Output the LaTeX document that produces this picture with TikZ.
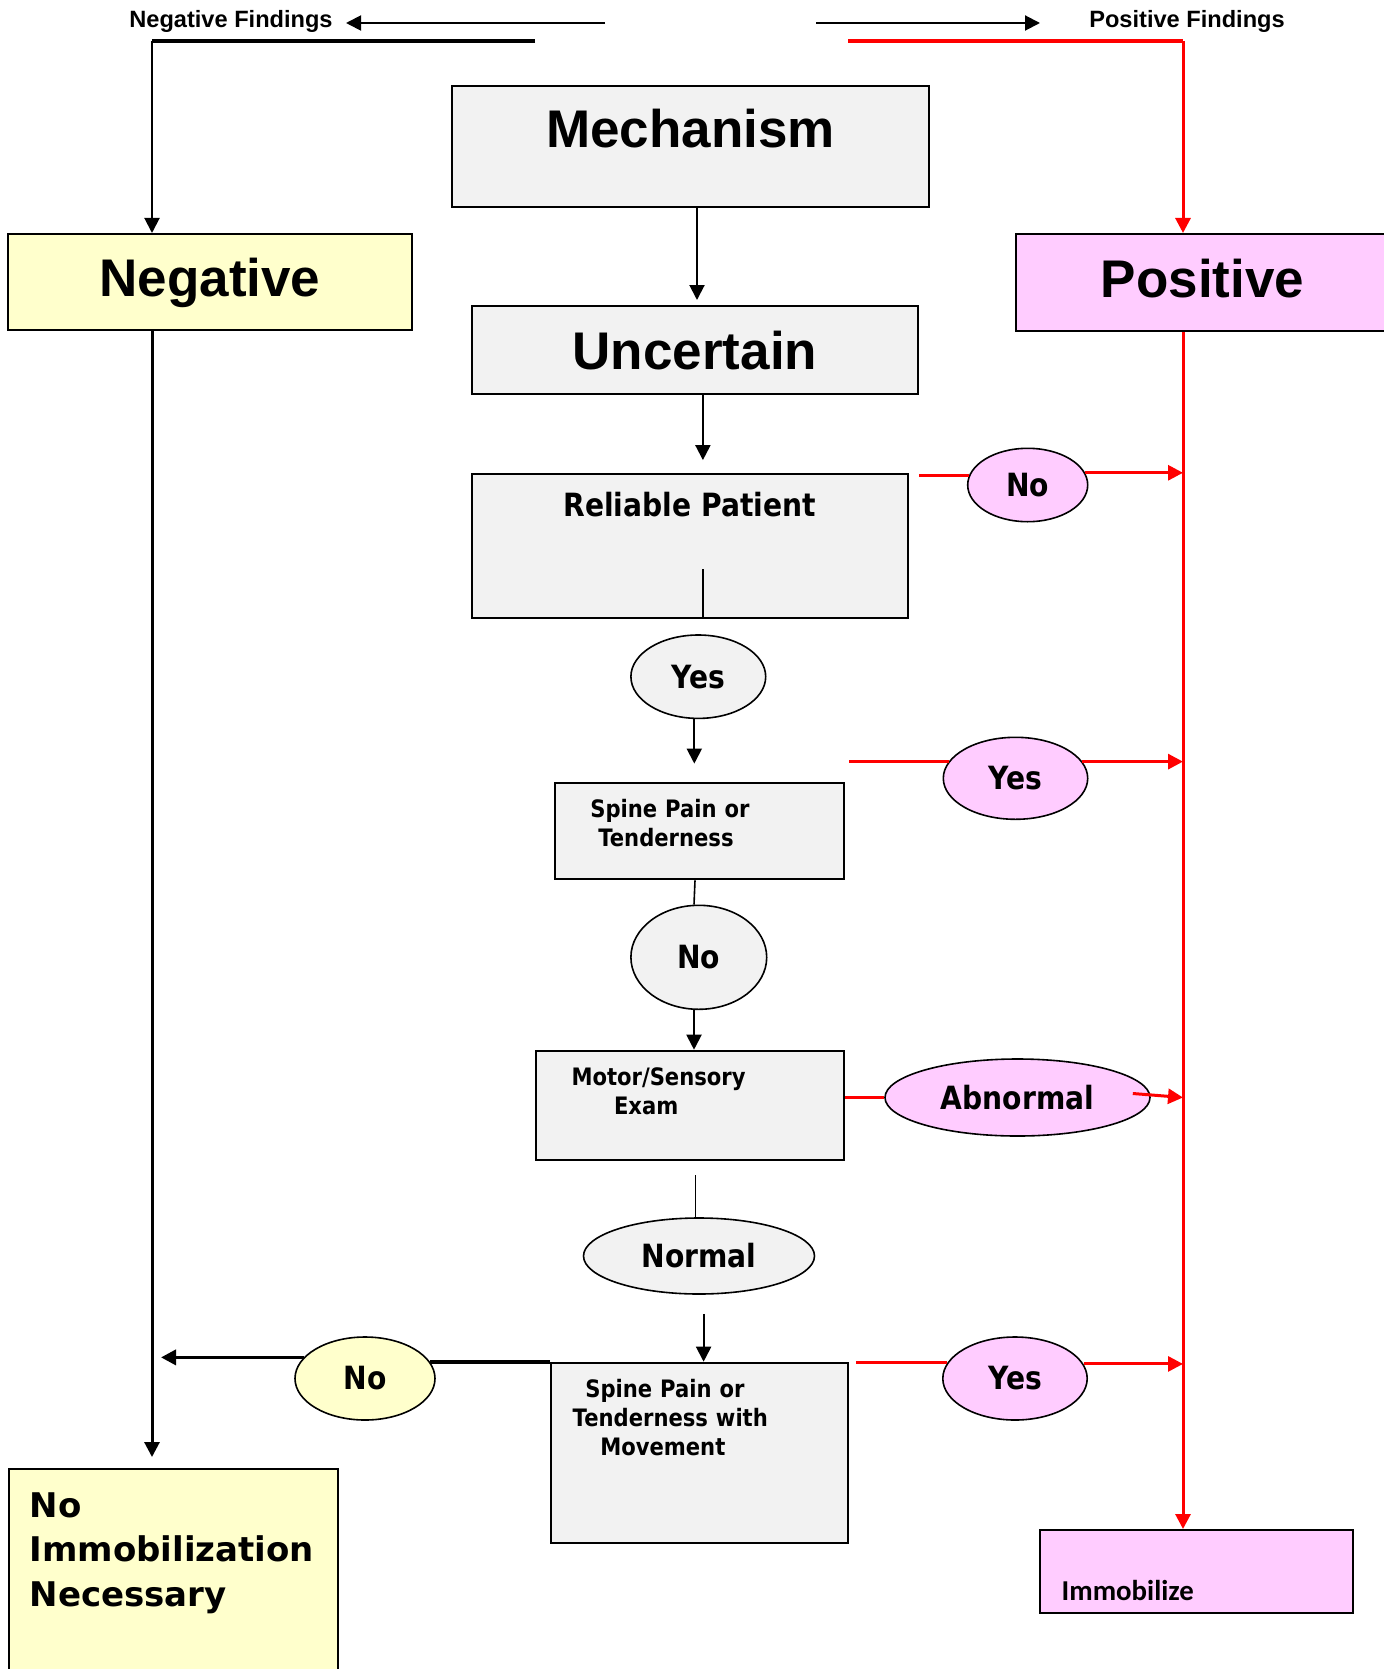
\documentclass[tikz,border=0pt]{standalone}
\usepackage{fontspec}
\setmainfont{Liberation Sans}
\newfontfamily\tahfont[FakeStretch=0.88]{DejaVu Sans}
\newfontfamily\verfont{DejaVu Sans}
\newfontfamily\calfont{Carlito}
\usetikzlibrary{arrows.meta,shapes.geometric,calc}
\definecolor{boxgray}{HTML}{F2F2F2}
\definecolor{negyellow}{HTML}{FFFFCC}
\definecolor{pospink}{HTML}{FFCCFF}
\tikzset{
  box/.style={draw, line width=1pt, fill=boxgray, inner sep=0pt, anchor=north west},
  oval/.style={ellipse, draw, line width=0.8pt, fill=boxgray, inner sep=0pt,
    font=\tahfont\bfseries\fontsize{16}{19}\selectfont},
  big/.style={font=\bfseries\fontsize{26.5}{30}\selectfont},
  small/.style={font=\tahfont\bfseries\fontsize{12}{14.5}\selectfont},
  findings/.style={font=\bfseries\fontsize{11.8}{14}\selectfont, inner xsep=6.5pt, anchor=base},
  arr/.style={line width=1pt, -{Triangle[length=7.5pt,width=7.5pt]}},
  redline/.style={red, line width=1.5pt},
  redarr/.style={redline, -{Triangle[length=7.5pt,width=7.5pt]}},
}

\begin{document}
\begin{tikzpicture}[x=0.5pt,y=-0.5pt]
\useasboundingbox (0,0) rectangle (1384,1669);

% findings legend
\node[findings] (negf) at (231,28) {Negative Findings};
\node[findings] (posf) at (1187,28) {Positive Findings};
\coordinate (negtail) at (605,23);
\coordinate (postail) at (816,23);
\coordinate (poshead) at (1040,23);
\coordinate (negbar) at (535,41);
\coordinate (negx) at (152,41);
\coordinate (posbar) at (848,41);
\coordinate (posx) at (1183,41);
\draw[arr] (negtail) -- (negtail -| negf.east);
\draw[arr] (postail) -- (poshead);

% boxes
\node[box, big, minimum width=238.5pt, text height=31pt, text depth=29.5pt] (mech) at (451,85) {Mechanism};
\node[box, big, minimum width=223.2pt, text height=31.5pt, text depth=12.5pt] (unc) at (470.7,305) {Uncertain};
\node[box, big, fill=negyellow, minimum width=202pt, text height=31pt, text depth=17pt] (neg) at (7,233) {Negative};
\node[box, big, fill=pospink, minimum width=186.5pt, text height=31.5pt, text depth=17pt] (pos) at (1015,233) {Positive};
\node[box, minimum width=218pt, text height=21.2pt, text depth=50.8pt,
  font=\tahfont\bfseries\fontsize{16}{19}\selectfont] (rel) at (470.7,472.7) {Reliable Patient};
\node[box, small, align=left, text width=109.5pt, inner xsep=17.5pt, text height=17.35pt, text depth=30.8pt]
  (sp1) at (554.3,782) {Spine Pain or\\\hspace*{4pt}Tenderness};
\node[box, small, align=left, text width=118.5pt, inner xsep=17.75pt, text height=17.2pt, text depth=37.5pt]
  (motor) at (535,1049.7) {Motor/Sensory\\\hspace*{21.25pt}Exam};
\node[box, small, align=left, text width=126.95pt, inner xsep=10.85pt, text height=17.5pt, text depth=72.8pt]
  (sp2) at (550,1361.7) {\hspace*{6.3pt}Spine Pain or\\Tenderness with\\\hspace*{13.8pt}Movement};
\node[box, fill=negyellow, align=left, text width=143.5pt, inner xsep=10.5pt, text height=24.15pt, text depth=92pt,
  font=\verfont\bfseries\fontsize{17}{22.25}\selectfont] (noimm) at (7.7,1467.7) {No\\Immobilization\\Necessary};
\node[box, fill=pospink, align=left, text width=134.8pt, inner xsep=10.85pt, text height=35pt, text depth=6.5pt,
  font=\calfont\bfseries\fontsize{14.4}{17}\selectfont] (immob) at (1039,1529) {Immobilize};

% answers
\node[oval, minimum width=67.4pt, minimum height=41.7pt] (yes1) at (698.3,676.7) {Yes};
\node[oval, minimum width=67.9pt, minimum height=52pt] (no1) at (698.8,957.3) {No};
\node[oval, minimum width=115.5pt, minimum height=38pt] (normal) at (699,1256) {Normal};
\node[oval, fill=negyellow, minimum width=70pt, minimum height=41.5pt] (no2) at (365,1378.5) {No};
\node[oval, fill=pospink, minimum width=60pt, minimum height=36.7pt] (nop) at (1027.7,485) {No};
\node[oval, fill=pospink, minimum width=72.2pt, minimum height=41pt] (yesp1) at (1015.5,778.3) {Yes};
\node[oval, fill=pospink, minimum width=132.5pt, minimum height=38.5pt] (abn) at (1017.5,1097.5) {Abnormal};
\node[oval, fill=pospink, minimum width=72.2pt, minimum height=41.5pt] (yesp2) at (1015,1378.5) {Yes};

% negative side
\draw[line width=2pt] (negbar) -- (negx);
\draw[arr] (negx) -- (negx |- neg.north);
\draw[arr, line width=1.5pt, shorten >=5.35pt] (negx |- neg.south) -- (negx |- noimm.north);
\draw[line width=1.75pt] (no2.14) -- (no2.14 -| sp2.west);
\draw[arr, line width=1.75pt, shorten >=4.5pt] (no2.161) -- (no2.161 -| negx);

% middle column
\draw[arr, shorten >=2.5pt] ($(mech.south)+(6.5,0)$) -- ($(mech.south |- unc.north)+(6.5,0)$);
\draw[arr, shorten >=6.3pt] ($(unc.south)+(8,0)$) -- ($(unc.south |- rel.north)+(8,0)$);
\draw[line width=0.8pt] ($(rel.south)+(13.3,0)$) -- ++(0,-50);
\draw[arr, shorten >=9.2pt] ($(yes1.south)+(-4,0)$) -- ($(yes1.south |- sp1.north)+(-4,0)$);
\draw[line width=0.8pt] ($(sp1.south)+(-4.8,0)$) -- ($(no1.north)+(-4.8,0)$);
\draw[arr] ($(no1.south)+(-4.8,0)$) -- ($(no1.south |- motor.north)+(-4.8,0)$);
\draw[line width=0.8pt] ($(normal.north)+(-3.5,0)$) -- ++(0,-42);
\draw[arr] ($(normal.south)+(4.6,19)$) -- ($(normal.south |- sp2.north)+(4.6,0)$);

% positive side
\draw[redline, line width=2pt] (posbar) -- (posx);
\draw[redarr] (posx) -- (posx |- pos.north);
\draw[redarr] (posx |- pos.south) -- (posx |- immob.north);
\draw[redline] ($(nop.171 -| rel.east)+(10.6,0)$) -- (nop.171);
\draw[redline] ($(yesp1.166 -| sp1.east)+(4,0)$) -- (yesp1.166);
\draw[redline] (abn.west -| motor.east) -- (abn.west);
\draw[redline] ($(yesp2.167 -| sp2.east)+(6.7,0)$) -- (yesp2.167);
\foreach \n/\a in {nop/12, yesp1/14, yesp2/12} % into the red line
  \draw[redarr] (\n.\a) -- (\n.\a -| posx);
\draw[redarr] ($(abn.east)+(-18,-4)$) -- (abn.east -| posx);
\end{tikzpicture}
\end{document}
